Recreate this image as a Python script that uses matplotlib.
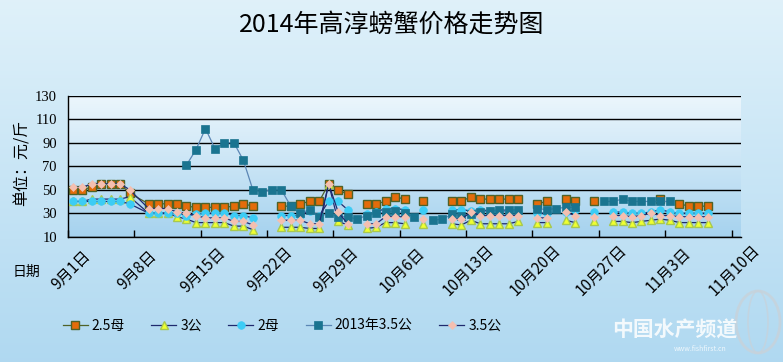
import numpy as np
import pandas as pd
import matplotlib
matplotlib.use('Agg')
import matplotlib.pyplot as plt
from matplotlib.patches import Ellipse

plt.rcParams['font.family'] = ['Noto Sans CJK SC', 'DejaVu Sans']

nan = np.nan
# dates (rows present in the source table)
dates = ['9/1', '9/2', '9/3', '9/4', '9/5', '9/6', '9/7',
         '9/9', '9/10', '9/11', '9/12', '9/13', '9/14', '9/15', '9/16', '9/17', '9/18', '9/19', '9/20',
         '9/21', '9/22', '9/23', '9/24', '9/25', '9/26', '9/27', '9/28', '9/29', '9/30',
         '10/1', '10/2', '10/3', '10/4', '10/5', '10/6', '10/7', '10/8', '10/9', '10/10',
         '10/11', '10/12', '10/13', '10/14', '10/15', '10/16', '10/17', '10/18', '10/19',
         '10/20', '10/21', '10/22', '10/23', '10/24', '10/25', '10/26', '10/27', '10/28',
         '10/29', '10/30', '10/31', '11/1', '11/2', '11/3', '11/4', '11/5', '11/6', '11/7', '11/8']

mu25 = [50, 50, 52, 55, 55, 55, 47,
        38, 38, 38, 38, 36, 35, 35, 35, 35, 36, 38, 36,
        nan, nan, 36, 36, 38, 40, 40, 55, 50, 46,
        nan, 38, 38, 40, 44, 42, nan, 40, nan, nan,
        40, 40, 44, 42, 42, 42, 42, 42, nan,
        38, 40, nan, 42, 40, nan, 40, nan, nan,
        nan, nan, nan, nan, 42, nan, 38, 36, 36, 36, nan]
gong3 = [40, 40, 42, 42, 42, 42, 44,
         30, 30, 30, 27, 25, 22, 22, 22, 22, 19, 19, 16,
         nan, nan, 18, 18, 18, 17, 17, 55, 23, 20,
         nan, 17, 18, 22, 22, 21, nan, 21, nan, nan,
         21, 20, 24, 21, 21, 21, 21, 23, nan,
         22, 22, nan, 24, 22, nan, 23, nan, 23,
         23, 22, 23, 24, 25, 24, 22, 22, 22, 22, nan]
mu2 = [40, 40, 40, 40, 40, 40, 38,
       30, 30, 30, 30, 28, 29, 30, 30, 30, 28, 28, 26,
       nan, nan, 28, 28, 28, 32, 28, 40, 40, 33,
       nan, 29, 31, 34, 34, 33, nan, 33, nan, nan,
       33, 33, 32, 33, 32, 32, 32, 32, nan,
       30, 30, nan, 31, 33, nan, 31, nan, 31,
       31, 30, 30, 31, 33, 31, 30, 30, 30, 30, nan]
gong35_2013 = [nan, nan, nan, nan, nan, nan, nan,
               nan, nan, nan, nan, 71, 84, 102, 85, 90, 90, 75, 50,
               48, 50, 50, 36, 30, 33, 27, 30, 27, 27,
               25, 28, 30, 31, 32, 30, 27, nan, 24, 25,
               29, 28, 29, 31, 32, 33, 33, 33, nan,
               34, 33, 34, 35, 35, nan, nan, 40, 40,
               42, 40, 40, 40, 40, 40, nan, nan, nan, nan, nan]
gong35 = [52, 52, 55, 55, 55, 55, 50,
          34, 34, 34, 31, 30, 28, 26, 26, 26, 23, 23, 20,
          nan, nan, 24, 24, 24, 21, 21, 55, 31, 21,
          nan, 21, 21, 27, 27, 27, nan, 25, nan, nan,
          25, 25, 31, 28, 28, 28, 28, 28, nan,
          26, 26, nan, 31, 28, nan, 27, nan, 28,
          28, 27, 28, 30, 28, 28, 27, 27, 27, 27, nan]

tick_labels = ['9月1日', '9月8日', '9月15日', '9月22日', '9月29日', '10月6日',
               '10月13日', '10月20日', '10月27日', '11月3日', '11月10日']

series_names = ['2.5母', '3公', '2母', '2013年3.5公', '3.5公']

# positions: days since 9/1, markers centred in the day
day = (pd.to_datetime(['2014/' + d for d in dates]) - pd.Timestamp('2014-09-01')).days.values
xpos = day + 0.5

W, H = 783, 362
fig = plt.figure(figsize=(W / 100, H / 100), dpi=100)

# figure background gradient
bg = fig.add_axes([0, 0, 1, 1], zorder=-10)
grad = np.linspace(0, 1, 256).reshape(-1, 1)
top = np.array([0.875, 0.945, 0.980])
bot = np.array([0.690, 0.850, 0.945])
img = top[None, None, :] * (1 - grad[:, :, None]) + bot[None, None, :] * grad[:, :, None]
bg.imshow(img, aspect='auto', extent=[0, 1, 0, 1], origin='upper')
bg.set_axis_off()

L, R, T, B = 68, 741, 95.7, 236.7
ax = fig.add_axes([L / W, 1 - B / H, (R - L) / W, (B - T) / H])
ax.set_facecolor('none')
ptop = np.array([0.925, 0.965, 0.990])
pbot = np.array([0.650, 0.825, 0.935])
img2 = ptop[None, None, :] * (1 - grad[:, :, None]) + pbot[None, None, :] * grad[:, :, None]
ax.imshow(img2, aspect='auto', extent=[0, 1, 0, 1], origin='upper', transform=ax.transAxes, zorder=0)

styles = [
    dict(color='#4F6228', marker='s', mfc='#E46C0A', mec='#4F6228', ms=5.5, mew=1.0),
    dict(color='#1F2A6E', marker='^', mfc='#EEFF30', mec='#A8C850', ms=6, mew=1.0),
    dict(color='#1F2A6E', marker='o', mfc='#3CCCF5', mec='#3CCCF5', ms=5.5, mew=0.5),
    dict(color='#5B86B5', marker='s', mfc='#1A7490', mec='#1A7490', ms=6, mew=0.5),
    dict(color='#1F2A6E', marker='D', mfc='#F4BFB0', mec='#F4BFB0', ms=4.5, mew=0.5),
]
data = [mu25, gong3, mu2, gong35_2013, gong35]
order = [3, 0, 1, 2, 4]
handles = [None] * 5
for i in order:
    y = np.array(data[i], dtype=float)
    h, = ax.plot(xpos, y, lw=0.9, zorder=3 + i, label=series_names[i], **styles[i])
    handles[i] = h

ax.set_xlim(0, 71)
ax.set_ylim(10, 130)
ax.set_yticks(np.arange(10, 131, 20))
ax.set_yticklabels([str(v) for v in range(10, 131, 20)], family='Liberation Serif', fontsize=10.5)
ax.tick_params(axis='y', length=0, pad=8)
ax.yaxis.grid(True, color='black', lw=1.0)
ax.set_axisbelow(False)
for g in ax.get_ygridlines():
    g.set_zorder(1)
ax.set_xticks(np.arange(0, 71, 7))
ax.set_xticklabels([])
ax.tick_params(axis='x', direction='in', length=5, width=1, color='black')
for s in ['top', 'right']:
    ax.spines[s].set_visible(False)
for s in ['left', 'bottom']:
    ax.spines[s].set_color('black')
    ax.spines[s].set_linewidth(1.0)

for xv, lab in zip(np.arange(0, 71, 7), tick_labels):
    ax.text(xv + 0.3, -0.235, lab, transform=ax.get_xaxis_transform(), rotation=45,
            ha='center', va='center', fontsize=11)

fig.text(26 / W, 1 - 272 / H, '日期', ha='center', va='center', fontsize=10)
fig.text(22 / W, 1 - 163 / H, '单位：元/斤', rotation=90, ha='center', va='center', fontsize=11.5)
fig.text(392 / W, 1 - 25 / H, '2014年高淳螃蟹价格走势图', ha='center', va='center', fontsize=18)

leg = fig.legend(handles, series_names, loc='center', bbox_to_anchor=(282 / W, 1 - 326 / H),
                 ncol=5, frameon=False, fontsize=10, handlelength=1.8, columnspacing=1.9,
                 handletextpad=0.3)

# watermark
fig.text(675 / W, 1 - 330 / H, '中国水产频道', ha='center', va='center', fontsize=15,
         color='white', alpha=0.85, weight='bold', style='italic')
fig.text(700 / W, 1 - 349 / H, 'www.fishfirst.cn', ha='center', va='center', fontsize=5,
         color='white', alpha=0.8)
wm = fig.add_axes([0, 0, 1, 1], zorder=-5)
wm.set_xlim(0, W)
wm.set_ylim(H, 0)
wm.set_axis_off()
wm.add_patch(Ellipse((758, 322), 44, 62, fill=False, ec='#C8D2DA', lw=2, alpha=0.8))
wm.add_patch(Ellipse((758, 322), 20, 62, fill=False, ec='#C8D2DA', lw=1.2, alpha=0.7))

fig.savefig('out.png', dpi=100)
